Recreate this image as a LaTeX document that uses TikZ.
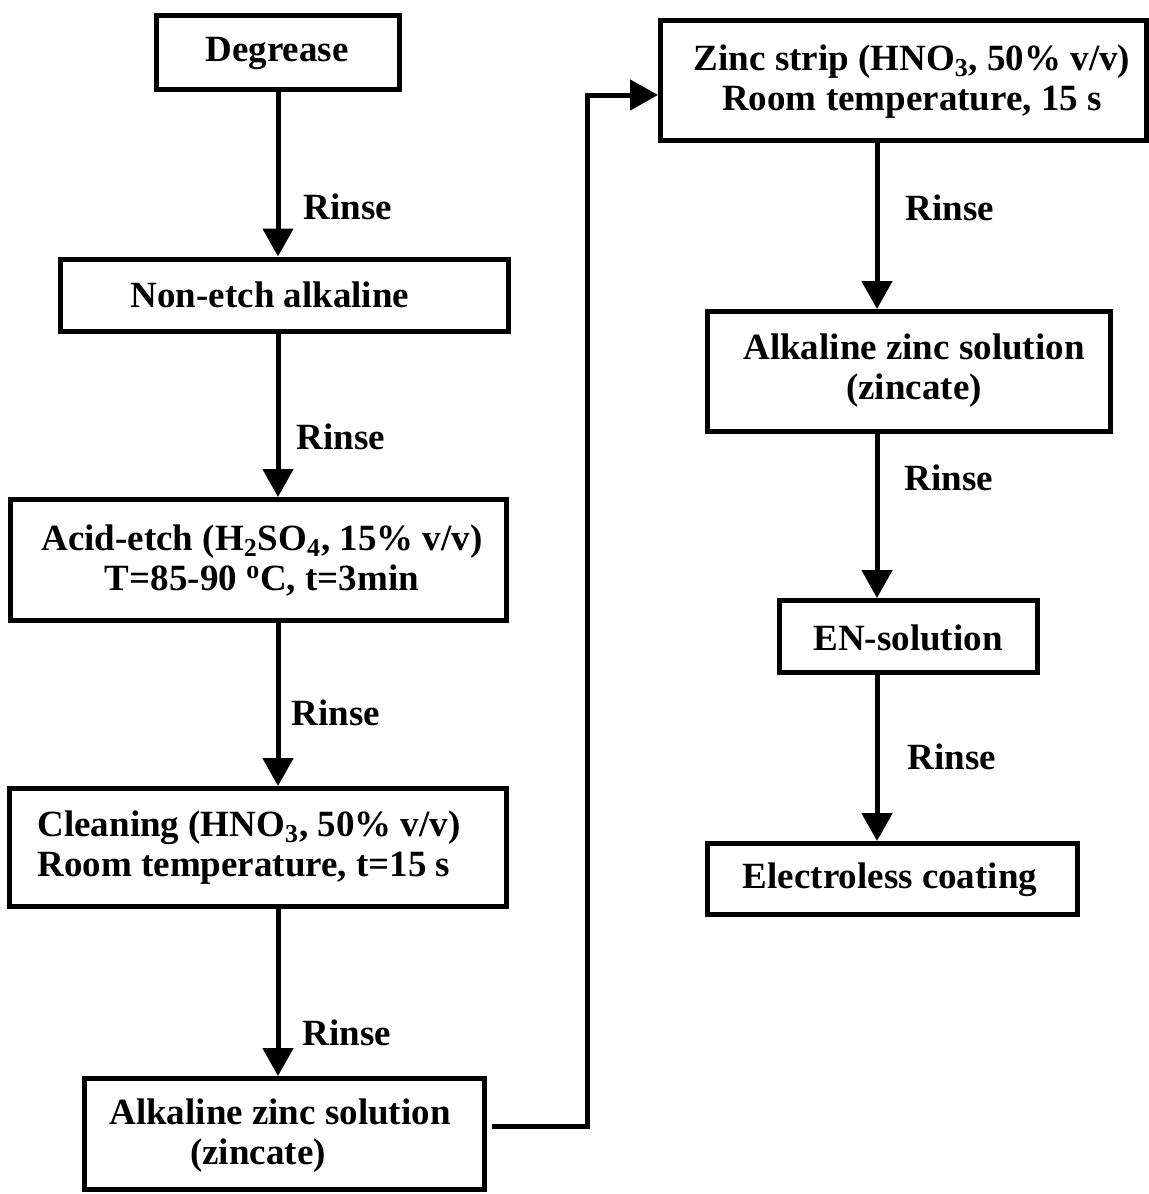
\documentclass[tikz,border=0pt]{standalone}
\usepackage{fontspec}
\setmainfont{Liberation Serif}
\usetikzlibrary{arrows.meta}
\begin{document}
\begin{tikzpicture}[x=0.5pt, y=-0.5pt, line width=2.5pt,
		font=\fontsize{18.5pt}{20pt}\selectfont\bfseries,
		stepbox/.style={draw, rectangle, inner sep=0pt},
		steptext/.style={inner sep=0pt, align=center},
		flow/.style={-{Triangle[length=14pt, width=15pt]}},
		rinse/.style={anchor=west, inner sep=0pt}]
	\useasboundingbox (0,0) rectangle (1149,1194);
	
	% Left column boxes
	\node[stepbox, minimum width=121.5pt, minimum height=37pt] (deg) at (278,52) {};
	\node[stepbox, minimum width=224pt, minimum height=36pt] (non) at (284,295) {};
	\node[stepbox, minimum width=248pt, minimum height=60.5pt] (acid) at (258.5,560) {};
	\node[stepbox, minimum width=248.5pt, minimum height=59pt] (clean) at (258,847.5) {};
	\node[stepbox, minimum width=200pt, minimum height=55.5pt] (alk1) at (284.5,1134) {};
	
	% Right column boxes
	\node[stepbox, minimum width=243pt, minimum height=60pt] (zinc) at (903.5,80.5) {};
	\node[stepbox, minimum width=201.5pt, minimum height=60pt] (alk2) at (909,371.5) {};
	\node[stepbox, minimum width=129pt, minimum height=36pt] (en) at (908.5,636.5) {};
	\node[stepbox, minimum width=185pt, minimum height=35.5pt] (elec) at (892.5,879) {};
	
	% Box texts
	\node[steptext] (deg-t) at (277,53) {Degrease};
	\node[steptext] (non-t) at (270,295) {Non-etch alkaline};
	\node[steptext] (acid-t) at (262,561) {Acid-etch (H\textsubscript{2}SO\textsubscript{4}, 15\% v/v)\\T=85-90 \textsuperscript{o}C, t=3min};
	\node[steptext, anchor=west, align=left] (clean-t) at (35,848) {Cleaning (HNO\textsubscript{3}, 50\% v/v)\\Room temperature, t=15 s};
	\node[steptext] (alk1-t) at (280,1136) {Alkaline zinc solution\\(zincate)\hspace*{22pt}};
	\node[steptext] (zinc-t) at (912,82) {Zinc strip (HNO\textsubscript{3}, 50\% v/v)\\Room temperature, 15 s};
	\node[steptext] (alk2-t) at (914,371) {Alkaline zinc solution\\(zincate)};
	\node[steptext] (en-t) at (908,638) {EN-solution};
	\node[steptext] (elec-t) at (890,880) {Electroless coating};
	
	% Arrows with rinse steps
	\coordinate (lcol) at (278,0);
	\coordinate (rcol) at (877,0);
	\draw[flow] (deg.south -| lcol) -- (non.north -| lcol) node[rinse, pos=.70, xshift=11.5pt] {Rinse};
	\draw[flow] (non.south -| lcol) -- (acid.north -| lcol) node[rinse, pos=.63, xshift=8pt] {Rinse};
	\draw[flow] (acid.south -| lcol) -- (clean.north -| lcol) node[rinse, pos=.55, xshift=5.5pt] {Rinse};
	\draw[flow] (clean.south -| lcol) -- (alk1.north -| lcol) node[rinse, pos=.74, xshift=11pt] {Rinse};
	\draw[flow] (zinc.south -| rcol) -- (alk2.north -| rcol) node[rinse, pos=.39, xshift=13pt] {Rinse};
	\draw[flow] (alk2.south -| rcol) -- (en.north -| rcol) node[rinse, pos=.27, xshift=12.5pt] {Rinse};
	\draw[flow] (en.south -| rcol) -- (elec.north -| rcol) node[rinse, pos=.49, xshift=14pt] {Rinse};
	
	% Link between the two columns
	\coordinate (bend) at (587,95);
	\draw[flow] ([xshift=2.5pt, yshift=4pt]alk1.east) -| (bend) -- ([yshift=-7.25pt]zinc.west);
\end{tikzpicture}
\end{document}
